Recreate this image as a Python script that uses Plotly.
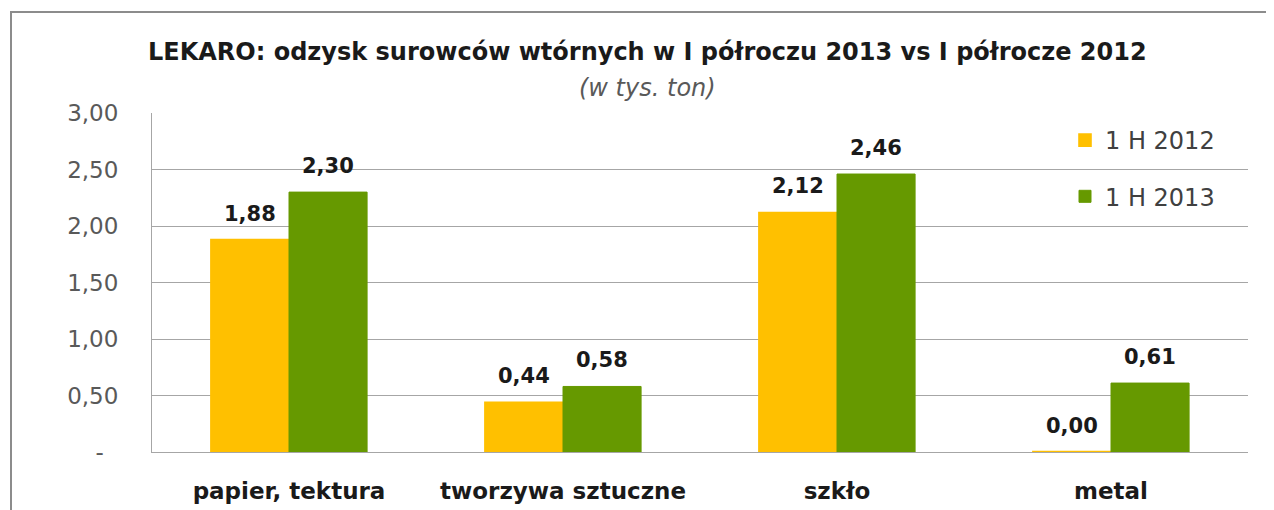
import plotly.graph_objects as go

categories = ["papier, tektura", "tworzywa sztuczne", "szkło", "metal"]
h2012 = [1.88, 0.44, 2.12, 0.004]
h2013 = [2.30, 0.58, 2.46, 0.61]
series_names = ["1 H 2012", "1 H 2013"]
y_tickvals = [0, 0.5, 1.0, 1.5, 2.0, 2.5, 3.0]
y_ticktext = ["-\u00a0\u00a0", "0,50", "1,00", "1,50", "2,00", "2,50", "3,00"]
title = "LEKARO: odzysk surowców wtórnych w I półroczu 2013 vs I półrocze 2012"
subtitle = "(w tys. ton)"

colors = ["#FFC000", "#669900"]
line_widths = [1.6, 1]
FONT = "DejaVu Sans"
BARGAP = 0.43

def fmt(v):
    return f"{v:.2f}".replace(".", ",")

OFF = 8  # page body margin
PAGE_W, PAGE_H = 1274, 510
W, H = PAGE_W - OFF, PAGE_H - OFF
# plot area in page coords
PL, PT, PR, PB = 152, 113, 1248, 452
L, T = PL - OFF, PT - OFF
R, B = W - (PR - OFF), H - (PB - OFF)
pw, ph = W - L - R, H - T - B

def px_x(px):  # page px -> paper
    return (px - OFF - L) / pw

def px_y(py):
    return (H - B - (py - OFF)) / ph

fig = go.Figure()
annotations = []
bar_w = (1 - BARGAP) / 2
for i, (name, vals) in enumerate(zip(series_names, [h2012, h2013])):
    fig.add_trace(go.Bar(
        x=categories, y=vals, name=name,
        marker=dict(color=colors[i], line=dict(color=colors[i], width=line_widths[i])),
        legendgroup=name,
    ))
    offset = (i - 0.5) * bar_w
    for j, v in enumerate(vals):
        annotations.append(dict(
            x=j + offset, y=v, xref="x", yref="y", text=fmt(v),
            showarrow=False, xanchor="center", yanchor="bottom", yshift=12,
            font=dict(family=FONT, size=21, color="#1a1a1a", weight="bold"),
        ))

annotations += [
    dict(text=title, xref="paper", yref="paper",
         x=px_x(647), y=px_y(52), xanchor="center", yanchor="middle",
         showarrow=False, font=dict(family=FONT, size=24, color="#1a1a1a", weight="bold")),
    dict(text="<i>" + subtitle + "</i>", xref="paper", yref="paper",
         x=px_x(647), y=px_y(88), xanchor="center", yanchor="middle",
         showarrow=False, font=dict(family=FONT, size=24, color="#595959")),
]

fig.update_layout(
    width=W, height=H,
    margin=dict(l=L, r=R, t=T, b=B, autoexpand=False),
    paper_bgcolor="white", plot_bgcolor="white",
    barmode="group", bargap=BARGAP, bargroupgap=0,
    separators=", ",
    font=dict(family=FONT, color="#595959"),
    showlegend=True,
    legend=dict(
        x=px_x(1065), y=px_y(118), xanchor="left", yanchor="top",
        bgcolor="rgba(0,0,0,0)",
        font=dict(family=FONT, size=24, color="#404040"),
        traceorder="grouped", tracegroupgap=22,
        itemwidth=30,
    ),
    xaxis=dict(
        showgrid=False, showline=True, linecolor="#a6a6a6", linewidth=1,
        ticks="", ticklabelstandoff=18, automargin=False,
        tickfont=dict(family=FONT, size=23, color="#1a1a1a", weight="bold"),
    ),
    yaxis=dict(
        range=[0, 3], tickvals=y_tickvals, ticktext=y_ticktext,
        showgrid=True, gridcolor="#a6a6a6", gridwidth=1,
        showline=True, linecolor="#a6a6a6", linewidth=1,
        zeroline=False, ticks="", ticklabelstandoff=28, automargin=False,
        tickfont=dict(family=FONT, size=23, color="#595959"),
    ),
    shapes=[dict(
        type="rect", xref="paper", yref="paper",
        x0=px_x(11), x1=px_x(1300),
        y0=px_y(540), y1=px_y(12),
        line=dict(color="#8c8c8c", width=2), fillcolor="rgba(0,0,0,0)",
        layer="below",
    )],
    annotations=annotations,
)

fig.write_html("out.html")
